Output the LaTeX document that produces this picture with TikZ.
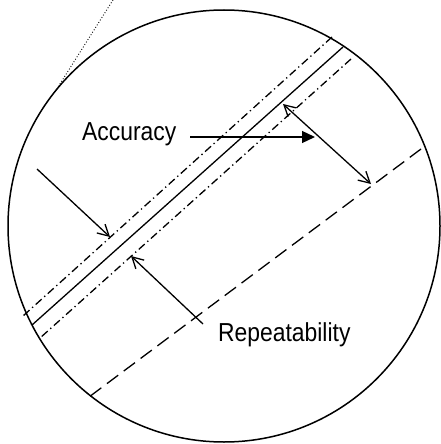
\documentclass[tikz,border=0pt]{standalone}
\usepackage{fontspec}
\setmainfont[FakeStretch=0.88]{Liberation Sans}
\usetikzlibrary{arrows.meta}
\begin{document}
\begin{tikzpicture}[
  x=1pt, y=-1pt,
  lbl/.style={inner sep=0pt, anchor=base west, font=\fontsize{26}{30}\selectfont},
  line/.style={line width=1.3pt},
  dashdot/.style={line, dash pattern=on 8pt off 3.5pt on 1.3pt off 3.5pt},
  longdash/.style={line, dash pattern=on 14pt off 7pt},
  barb/.style={line, -{Straight Barb[length=11pt,width=12pt]}},
  twobarb/.style={line, {Straight Barb[length=11pt,width=12pt]}-{Straight Barb[length=11pt,width=12pt]}},
  solidtip/.style={line, -{Triangle[length=13pt,width=12pt]}}
]
  \useasboundingbox (0,0) rectangle (440,444);

  % Lens
  \draw[line width=1.5pt] (224,226) circle[radius=216];
  \draw[line width=0.9pt, dash pattern=on 0.9pt off 2pt] (113,0) -- (58,87);

  % Lines
  \coordinate (ua) at (332,37);  \coordinate (ub) at (23,316);
  \coordinate (sa) at (343,47);  \coordinate (sb) at (32,325);
  \coordinate (la) at (351,59);  \coordinate (lb) at (40,338);
  \coordinate (da) at (421,149); \coordinate (db) at (89,397);
  \draw[dashdot] (ua) -- (ub);
  \draw[line] (sa) -- (sb);
  \draw[dashdot] (la) -- (lb);
  \draw[longdash] (da) -- (db);

  % Labels
  \node[lbl] (acc) at (82,140) {Accuracy};
  \node[lbl] (rep) at (218,341) {Repeatability};

  % Arrows
  \coordinate (acctip) at (315,137);
  \coordinate (utail) at (37,169);  \coordinate (utip) at (110,237);
  \coordinate (dtop) at (283,104);  \coordinate (dbot) at (371,184);
  \coordinate (reptail) at (203,324); \coordinate (reptip) at (131,256);
  \draw[solidtip] (190,137) -- (acctip);
  \draw[barb] (utail) -- (utip);
  \draw[twobarb] (dtop) -- (dbot);
  \draw[barb] (reptail) -- (reptip);
\end{tikzpicture}
\end{document}
